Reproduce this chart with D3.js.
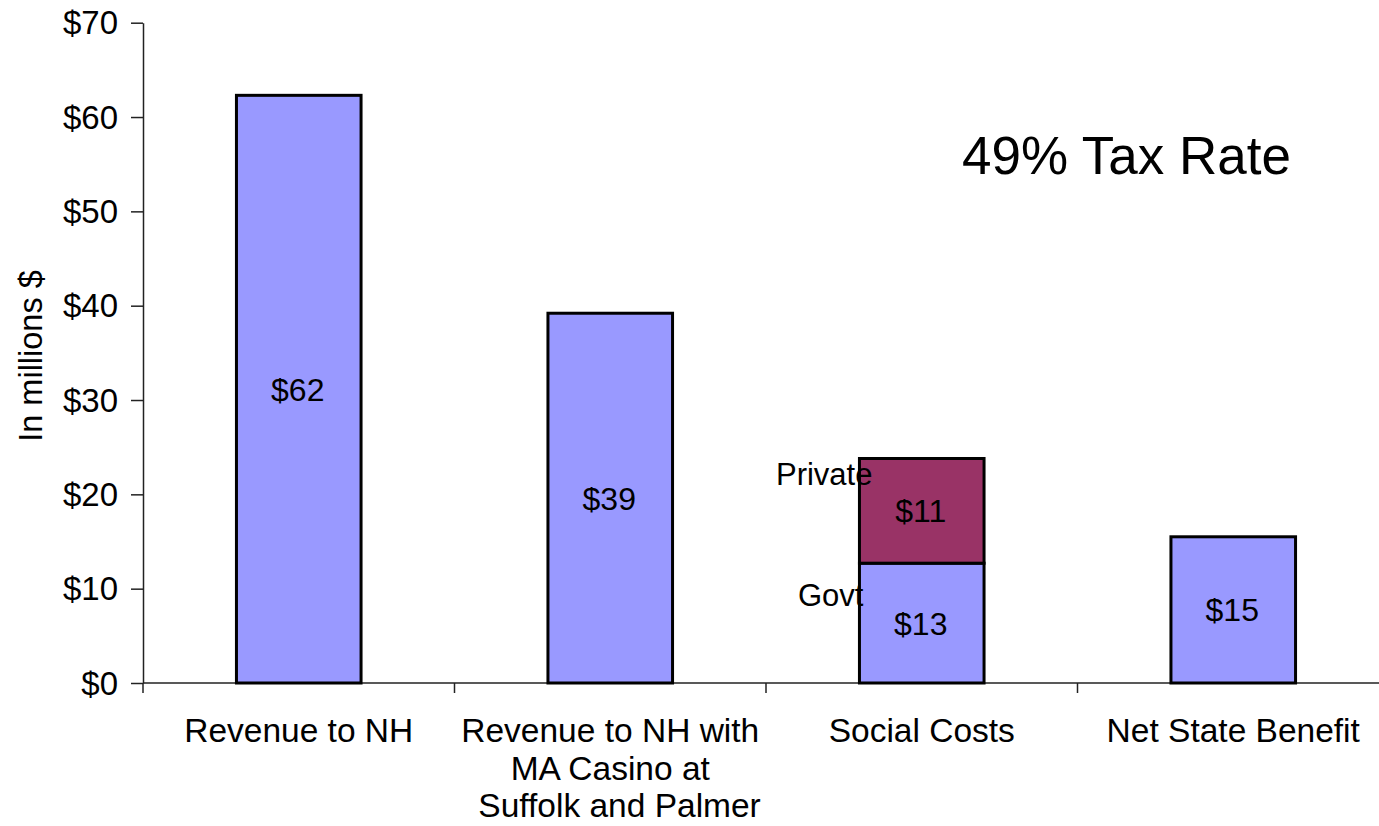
<!DOCTYPE html>
<html>
<head>
<meta charset="utf-8">
<script src="https://cdn.jsdelivr.net/npm/d3@7"></script>
<style>
  html, body { margin: 0; padding: 0; background: #fff; }
  svg { display: block; font-family: "Liberation Sans", Arial, sans-serif; }
  .axis path, .axis line { stroke: #222; stroke-width: 1.5; }
  .axis text { fill: #000; font-size: 33px; font-family: "Liberation Sans", Arial, sans-serif; }
</style>
</head>
<body>
<div id="chart"></div>
<script>
"use strict";

// categories (each line of a label is its own entry)
var categories = ["Revenue to NH", "Revenue to NH with MA", "Social Costs", "Net State Benefit"];
var categoryLines = [
    ["Revenue to NH"],
    ["Revenue to NH with", "MA Casino at", "  Suffolk and Palmer"],
    ["Social Costs"],
    ["Net State Benefit"]
];

// lower segment (blue) and upper segment (purple), in millions $
var baseValues = [62.3, 39.2, 12.7, 15.5];
var topValues = [0, 0, 11.1, 0];
var baseLabels = ["$62", "$39", "$13", "$15"];
var topLabels = ["", "", "$11", ""];

var yTicks = [0, 10, 20, 30, 40, 50, 60, 70];

var width = 1379, height = 826;
var margin = { left: 143, top: 22.7, bottom: 143 };
var plotRight = 143 + 4 * 311.5;

var svg = d3.select("#chart")
    .append("svg")
    .attr("width", width)
    .attr("height", height);

var x = d3.scaleBand()
    .domain(categories)
    .range([margin.left, plotRight])
    .padding(0);

var y = d3.scaleLinear()
    .domain([0, 70])
    .range([height - margin.bottom, margin.top]);

var barW = x.bandwidth() * 0.4;
var barX = function (d, i) { return x(categories[i]) + (x.bandwidth() - barW) / 2; };

// y axis
var yAxis = svg.append("g")
    .attr("class", "axis")
    .attr("transform", "translate(" + margin.left + ",0)")
    .call(d3.axisLeft(y)
        .tickValues(yTicks)
        .tickFormat(function (d) { return "$" + d; })
        .tickSize(12)
        .tickSizeOuter(0)
        .tickPadding(13));
yAxis.selectAll("text").attr("dy", "0.34em");

// x axis line and tick marks at band edges
var xAxis = svg.append("g").attr("class", "axis");
xAxis.append("line")
    .attr("x1", margin.left).attr("x2", width)
    .attr("y1", y(0)).attr("y2", y(0));
xAxis.selectAll("line.tick")
    .data(categories)
    .enter().append("line")
    .attr("class", "tick")
    .attr("x1", function (d) { return x(d); })
    .attr("x2", function (d) { return x(d); })
    .attr("y1", y(0))
    .attr("y2", y(0) + 10);

// category labels
var catG = svg.append("g");
categoryLines.forEach(function (lines, i) {
    var t = catG.append("text")
        .attr("x", x(categories[i]) + x.bandwidth() / 2)
        .attr("y", 742)
        .attr("text-anchor", "middle")
        .style("font-size", "33.5px")
        .style("white-space", "pre");
    lines.forEach(function (line, j) {
        t.append("tspan")
            .attr("x", x(categories[i]) + x.bandwidth() / 2)
            .attr("dy", j === 0 ? 0 : 37.5)
            .text(line);
    });
});

// bars
svg.append("g")
    .selectAll("rect")
    .data(baseValues)
    .enter().append("rect")
    .attr("x", barX)
    .attr("y", function (d) { return y(d); })
    .attr("width", barW)
    .attr("height", function (d) { return y(0) - y(d); })
    .attr("fill", "#9999ff")
    .attr("stroke", "#000")
    .attr("stroke-width", 3);

svg.append("g")
    .selectAll("rect")
    .data(topValues)
    .enter().append("rect")
    .filter(function (d) { return d > 0; })
    .attr("x", function (d) { return barX(d, topValues.indexOf(d)); })
    .attr("y", function (d) { var i = topValues.indexOf(d); return y(baseValues[i] + d); })
    .attr("width", barW)
    .attr("height", function (d) { return y(0) - y(d); })
    .attr("fill", "#993366")
    .attr("stroke", "#000")
    .attr("stroke-width", 3);

// value labels
svg.append("g")
    .selectAll("text")
    .data(baseValues)
    .enter().append("text")
    .attr("x", function (d, i) { return x(categories[i]) + x.bandwidth() / 2 - 1; })
    .attr("y", function (d) { return (y(0) + y(d)) / 2; })
    .attr("dy", "0.36em")
    .attr("text-anchor", "middle")
    .style("font-size", "32px")
    .text(function (d, i) { return baseLabels[i]; });

svg.append("g")
    .selectAll("text")
    .data(topValues)
    .enter().append("text")
    .attr("x", function (d, i) { return x(categories[i]) + x.bandwidth() / 2 - 1; })
    .attr("y", function (d, i) { return (y(baseValues[i]) + y(baseValues[i] + d)) / 2; })
    .attr("dy", "0.36em")
    .attr("text-anchor", "middle")
    .style("font-size", "32px")
    .text(function (d, i) { return topLabels[i]; });

// series names beside the stacked bar
var stackX = x(categories[2]) + (x.bandwidth() - barW) / 2;
svg.append("text")
    .attr("x", stackX + 13)
    .attr("y", 485)
    .attr("text-anchor", "end")
    .style("font-size", "31px")
    .text("Private");
svg.append("text")
    .attr("x", stackX + 4)
    .attr("y", 606)
    .attr("text-anchor", "end")
    .style("font-size", "31px")
    .text("Govt");

// y axis title
svg.append("text")
    .attr("transform", "translate(42," + 356 + ") rotate(-90)")
    .attr("text-anchor", "middle")
    .style("font-size", "32.5px")
    .text("In millions $");

// chart title
svg.append("text")
    .attr("x", 962)
    .attr("y", 174)
    .style("font-size", "53px")
    .text("49% Tax Rate");
</script>
</body>
</html>
